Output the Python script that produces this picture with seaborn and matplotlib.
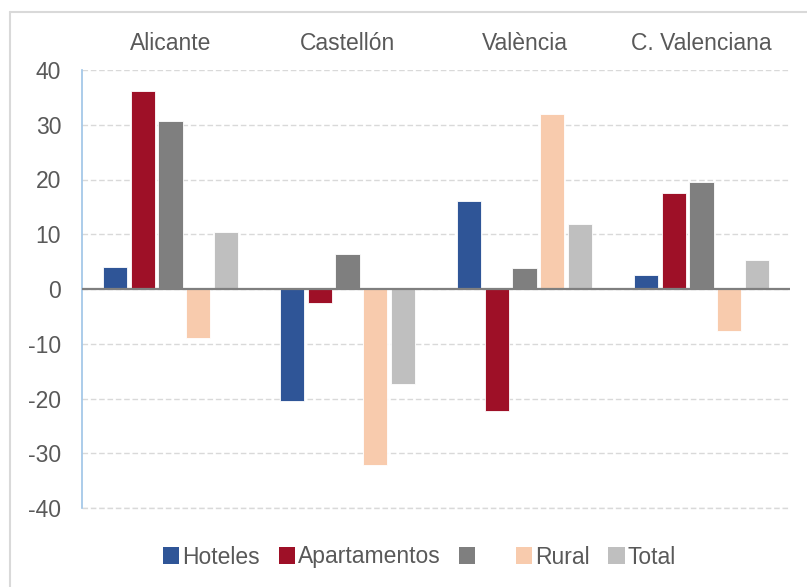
import pandas as pd
import matplotlib
matplotlib.use('Agg')
import matplotlib.pyplot as plt
import seaborn as sns
from matplotlib.patches import Patch
from matplotlib.lines import Line2D

# Datos
zonas = ["Alicante", "Castellón", "València", "C. Valenciana"]
series = ["Hoteles", "Apartamentos", "   ", "Rural", "Total"]
hoteles = [4.0, -20.5, 16.1, 2.6]
apartamentos = [36.1, -2.6, -22.2, 17.5]
campings = [30.6, 6.4, 3.8, 19.6]
rural = [-9.0, -32.1, 31.9, -7.7]
total = [10.4, -17.4, 11.9, 5.3]
colores = ["#2F5597", "#9E1027", "#7F7F7F", "#F8CBAD", "#BFBFBF"]

filas = []
for nombre, vals in zip(series, [hoteles, apartamentos, campings, rural, total]):
    for z, v in zip(zonas, vals):
        filas.append({"zona": z, "serie": nombre, "valor": v})
df = pd.DataFrame(filas)

sns.set_theme(style="white")
plt.rcParams['font.family'] = ['Liberation Sans', 'DejaVu Sans']
plt.rcParams['axes.unicode_minus'] = False

fig = plt.figure(figsize=(8.07, 5.87), dpi=100)
ax = fig.add_axes([82/807, 1 - 508/587, (790-82)/807, (508-70)/587])

sns.barplot(data=df, x="zona", y="valor", hue="serie", order=zonas, hue_order=series,
            palette=colores, width=0.78, gap=0.12, ax=ax, legend=False,
            edgecolor="white", linewidth=0.6, saturation=1)

ax.set_ylim(-40, 40)
ax.set_yticks(range(-40, 41, 10))
ax.set_xlim(-0.5, 3.5)
ax.yaxis.grid(True, linestyle=(0, (4, 2)), color="#D9D9D9", linewidth=1)
ax.set_axisbelow(True)
ax.axhline(0, color="#7F7F7F", linewidth=1.6, zorder=3)
ax.axhline(-40, color="#D9D9D9", linewidth=1, linestyle=(0, (4, 2)), clip_on=False, zorder=0)
for s in ["top", "right", "bottom"]:
    ax.spines[s].set_visible(False)
ax.spines["left"].set_color("#9DC3E6")
ax.spines["left"].set_linewidth(1.2)

ax.xaxis.tick_top()
ax.tick_params(axis="x", length=0, pad=11, labelsize=16.5, labelcolor="#595959")
ax.tick_params(axis="y", length=0, pad=15, labelsize=16.5, labelcolor="#595959")
ax.set_xlabel("")
ax.set_ylabel("")

handles = [Patch(facecolor=c, edgecolor="none") for c in colores]
fig.legend(handles, series, loc="center", bbox_to_anchor=(0.52, 1 - 557/587), ncol=5,
           frameon=False, fontsize=16.5, handlelength=0.7, handleheight=0.7,
           handletextpad=0.15, columnspacing=0.8, labelcolor="#595959")

# marco del grafico
fig.add_artist(Line2D([10/807, 10/807], [0, 1 - 12/587], transform=fig.transFigure,
                      color="#D9D9D9", linewidth=1.5))
fig.add_artist(Line2D([10/807, 1], [1 - 12/587, 1 - 12/587], transform=fig.transFigure,
                      color="#D9D9D9", linewidth=1.5))

fig.savefig("out.png", dpi=100)
